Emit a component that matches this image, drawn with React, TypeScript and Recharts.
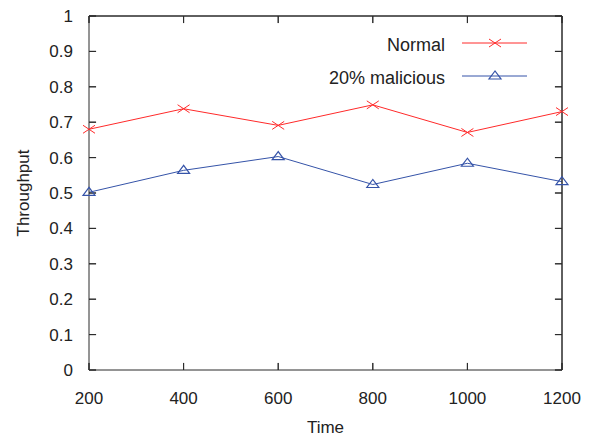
import React from 'react';
import { LineChart, Line, XAxis, YAxis, Legend, ReferenceLine } from 'recharts';

const times = [200, 400, 600, 800, 1000, 1200];
const normal = [0.68, 0.738, 0.691, 0.749, 0.671, 0.73];
const malicious = [0.502, 0.564, 0.603, 0.524, 0.584, 0.532];
const yTicks = [0, 0.1, 0.2, 0.3, 0.4, 0.5, 0.6, 0.7, 0.8, 0.9, 1];

const RED = '#ff2a2a';
const BLUE = '#3553a8';
const AXIS = '#2a2a2a';
const TEXT = '#222222';
const FONT = '"Liberation Sans", Arial, sans-serif';

// inward tick length (about 7px) expressed in axis units
const X_TICK = 15;
const Y_TICK = 0.02;

const data = times.map((t, i) => ({ time: t, normal: normal[i], malicious: malicious[i] }));

const CrossDot = (props: any) => {
    const { cx, cy } = props;
    if (cx == null || cy == null) return null;
    return (
        <g stroke={RED} strokeWidth={1}>
            <line x1={cx - 6} y1={cy - 4} x2={cx + 6} y2={cy + 4} />
            <line x1={cx - 6} y1={cy + 4} x2={cx + 6} y2={cy - 4} />
        </g>
    );
};

const TriDot = (props: any) => {
    const { cx, cy } = props;
    if (cx == null || cy == null) return null;
    return (
        <polygon
            points={`${cx},${cy - 5} ${cx - 6},${cy + 3} ${cx + 6},${cy + 3}`}
            fill="none"
            stroke={BLUE}
            strokeWidth={1.2}
        />
    );
};

const legendItems = [
    { label: 'Normal', color: RED, Dot: CrossDot, y: 23 },
    { label: '20% malicious', color: BLUE, Dot: TriDot, y: 56 }
];

// small legend box in the top right, gnuplot style (text, then line sample)
const renderLegend = () => (
    <svg width={215} height={70} style={{ display: 'block' }}>
        {legendItems.map(({ label, color, Dot, y }) => (
            <g key={label}>
                <text x={125} y={y + 2} textAnchor="end" dominantBaseline="central" fontFamily={FONT} fontSize={18} fill={TEXT}>{label}</text>
                <line x1={142} y1={y} x2={207} y2={y} stroke={color} strokeWidth={1} />
                <Dot cx={175} cy={y} />
            </g>
        ))}
    </svg>
);

const tickStyle = { fill: TEXT, fontSize: 17, fontFamily: FONT };

const App = () => {
    return (
        <div style={{ position: 'absolute', left: 0, top: 0, width: 591, height: 436, background: '#fff' }}>
            <div style={{ position: 'relative', width: 591, height: 436 }}>
                <LineChart width={591} height={436} data={data} margin={{ top: 0, right: 0, left: 29, bottom: 26 }}>
                    <XAxis
                        dataKey="time"
                        type="number"
                        domain={[200, 1200]}
                        ticks={times}
                        height={40}
                        stroke={AXIS}
                        tickSize={-7}
                        tickMargin={29}
                        tick={tickStyle}
                        label={{ value: 'Time', position: 'insideBottom', offset: -23, style: tickStyle }}
                    />
                    <XAxis
                        xAxisId="top"
                        dataKey="time"
                        type="number"
                        domain={[200, 1200]}
                        ticks={times}
                        orientation="top"
                        height={16}
                        stroke={AXIS}
                        tickSize={-7}
                        tickFormatter={() => ''}
                    />
                    <YAxis
                        type="number"
                        domain={[0, 1]}
                        ticks={yTicks}
                        width={60}
                        stroke={AXIS}
                        tickSize={-7}
                        tickMargin={23}
                        tick={tickStyle}
                        label={{ value: 'Throughput', angle: -90, position: 'insideLeft', offset: -6, style: { ...tickStyle, textAnchor: 'middle' } }}
                    />
                    <YAxis
                        yAxisId="right"
                        type="number"
                        domain={[0, 1]}
                        ticks={yTicks}
                        orientation="right"
                        width={29}
                        stroke={AXIS}
                        tickSize={-7}
                        tickFormatter={() => ''}
                    />
                    <Legend
                        content={renderLegend}
                        layout="horizontal"
                        verticalAlign="middle"
                        align="center"
                        wrapperStyle={{ left: 320, top: 20, width: 215, height: 70 }}
                    />

                    {/* frame + inward ticks on all four sides */}
                    <ReferenceLine x={1200} stroke={AXIS} />
                    <ReferenceLine y={1} stroke={AXIS} />
                    {times.map(t => (
                        <ReferenceLine key={`xb-${t}`} segment={[{ x: t, y: 0 }, { x: t, y: Y_TICK }]} stroke={AXIS} />
                    ))}
                    {times.map(t => (
                        <ReferenceLine key={`xt-${t}`} segment={[{ x: t, y: 1 }, { x: t, y: 1 - Y_TICK }]} stroke={AXIS} />
                    ))}
                    {yTicks.map(v => (
                        <ReferenceLine key={`yl-${v}`} segment={[{ x: 200, y: v }, { x: 200 + X_TICK, y: v }]} stroke={AXIS} />
                    ))}
                    {yTicks.map(v => (
                        <ReferenceLine key={`yr-${v}`} segment={[{ x: 1200, y: v }, { x: 1200 - X_TICK, y: v }]} stroke={AXIS} />
                    ))}

                    <Line xAxisId="top" yAxisId="right" dataKey="normal" stroke={RED} dot={<CrossDot />} activeDot={false} isAnimationActive={false} />
                    <Line dataKey="malicious" stroke={BLUE} dot={<TriDot />} activeDot={false} isAnimationActive={false} />
                </LineChart>
            </div>
        </div>
    );
};

export default App;
